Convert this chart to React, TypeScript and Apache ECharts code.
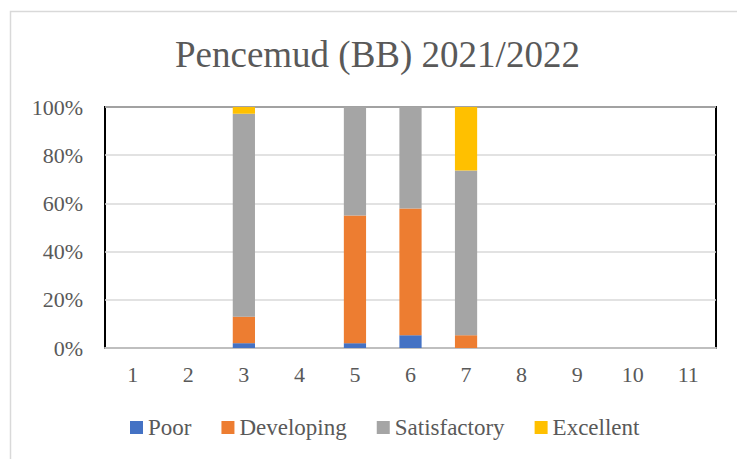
import React, { useEffect, useRef } from "react";
import * as echarts from "echarts";

const categories = ["1", "2", "3", "4", "5", "6", "7", "8", "9", "10", "11"];
const poor = [0, 0, 2, 0, 2, 5.3, 0, 0, 0, 0, 0];
const developing = [0, 0, 11, 0, 53, 52.6, 5.3, 0, 0, 0, 0];
const satisfactory = [0, 0, 84.2, 0, 45, 42.1, 68.4, 0, 0, 0, 0];
const excellent = [0, 0, 2.8, 0, 0, 0, 26.3, 0, 0, 0, 0];
const yTicks = [0, 20, 40, 60, 80, 100];

const FONT = "Liberation Serif";

export default function App() {
  const ref = useRef<HTMLDivElement>(null);
  useEffect(() => {
    if (!ref.current) return;
    const chart = echarts.init(ref.current, undefined, { renderer: "svg" });
    const mk = (name: string, data: number[], color: string) => ({
      name,
      type: "bar",
      stack: "total",
      data: data.map((v) => (v === 0 ? null : v)),
      barWidth: "40%",
      itemStyle: { color },
    });
    chart.setOption({
      animation: false,
      backgroundColor: "#fff",
      textStyle: { fontFamily: FONT },
      title: {
        text: "Pencemud (BB) 2021/2022",
        left: 170,
        top: 31,
        textStyle: { fontFamily: FONT, fontSize: 37, fontWeight: "normal", color: "#595959" },
      },
      legend: {
        bottom: 15,
        left: 125,
        itemWidth: 13,
        itemHeight: 13,
        itemGap: 30,
        icon: "rect",
        textStyle: { fontFamily: FONT, fontSize: 23, color: "#595959" },
        data: ["Poor", "Developing", "Satisfactory", "Excellent"],
      },
      graphic: [
        {
          type: "rect",
          shape: { x: 10.5, y: 11.5, width: 900, height: 600 },
          style: { fill: "none", stroke: "#d9d9d9", lineWidth: 1.5 },
          silent: true,
        },
      ],
      grid: {
        left: 105,
        right: 21,
        top: 107,
        bottom: 111,
        show: true,
        borderColor: "#000",
        borderWidth: 2,
        backgroundColor: "transparent",
      },
      xAxis: {
        type: "category",
        data: categories,
        axisLine: { show: true, lineStyle: { color: "#bfbfbf", width: 2 } },
        axisTick: { show: false },
        axisLabel: { fontFamily: FONT, fontSize: 22, color: "#595959", margin: 15 },
      },
      yAxis: {
        type: "value",
        min: yTicks[0],
        max: yTicks[yTicks.length - 1],
        interval: 20,
        axisLine: { show: false },
        axisTick: { show: false },
        splitLine: { lineStyle: { color: "#d9d9d9", width: 1.5 } },
        axisLabel: { fontFamily: FONT, fontSize: 22, color: "#595959", margin: 22, formatter: "{value}%" },
      },
      series: [
        mk("Poor", poor, "#4472C4"),
        mk("Developing", developing, "#ED7D31"),
        mk("Satisfactory", satisfactory, "#A5A5A5"),
        mk("Excellent", excellent, "#FFC000"),
      ],
    });
    return () => chart.dispose();
  }, []);
  return (
    <div
      ref={ref}
      style={{ position: "fixed", left: 0, top: 0, width: 737, height: 459 }}
    />
  );
}
